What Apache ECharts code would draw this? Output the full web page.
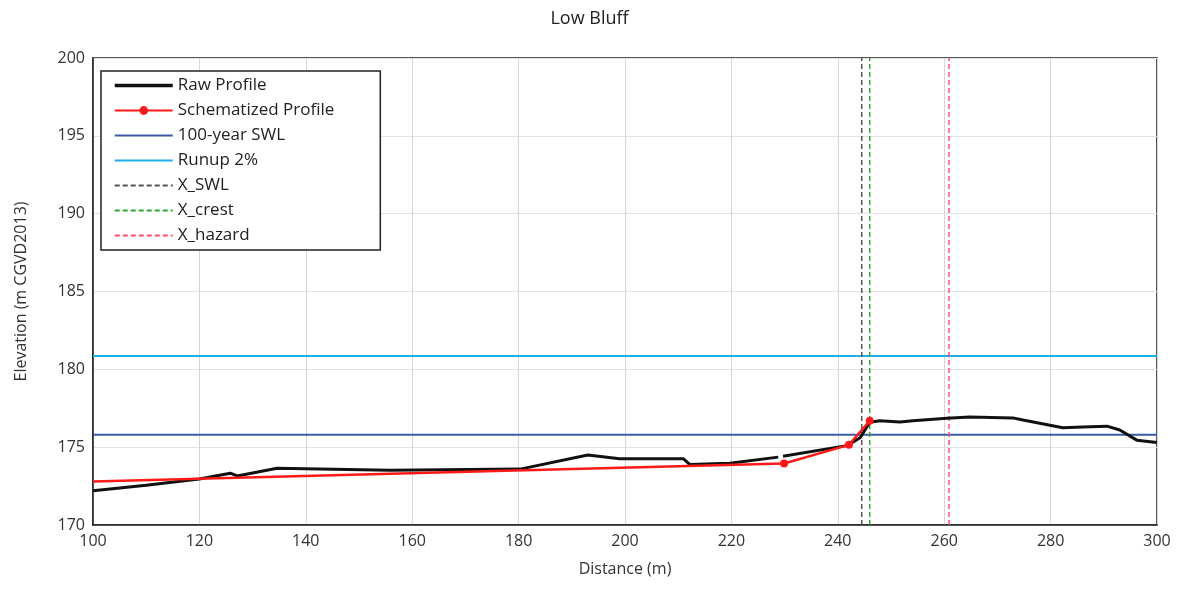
<!DOCTYPE html>
<html>
<head>
<meta charset="utf-8">
<script src="https://cdn.jsdelivr.net/npm/echarts@6/dist/echarts.min.js"></script>
<style>
  html, body { margin: 0; padding: 0; background: #fff; }
  #chart { width: 1179px; height: 599px; }
</style>
</head>
<body>
<div id="chart"></div>
<script>
// raw profile (distance, elevation)
var rawProfile = [
  [100, 172.2], [110, 172.55], [120, 172.95], [125.8, 173.33], [127.1, 173.15],
  [134.6, 173.65], [155.8, 173.52], [180.3, 173.59], [193, 174.5], [199, 174.25],
  [211, 174.25], [212.2, 173.88], [219.7, 173.97], [228.8, 174.36], [229.2, '-'],
  [229.7, 174.42], [241.7, 175.1], [244.2, 175.6], [246, 176.6], [247.9, 176.7],
  [251.7, 176.62], [254.1, 176.7], [260.5, 176.86], [264.8, 176.93], [272.9, 176.88],
  [274.8, 176.75], [282.3, 176.25], [286, 176.3], [290.6, 176.35], [293, 176.1],
  [296.2, 175.45], [300, 175.3]
];
// schematized profile
var schemProfile = [[100, 172.8], [229.9, 173.95], [242.1, 175.15], [246, 176.7]];
var swl = 175.8;
var runup = 180.85;
var xSwl = 244.5;
var xCrest = 246.0;
var xHazard = 260.9;
var legendNames = ['Raw Profile', 'Schematized Profile', '100-year SWL', 'Runup 2%', 'X_SWL', 'X_crest', 'X_hazard'];

function hLine(v) { return [[100, v], [300, v]]; }
function vLine(x) { return [[x, 170], [x, 200]]; }

var myChart = echarts.init(document.getElementById('chart'));
var axisText = { color: '#333', fontSize: 16, fontFamily: 'Open Sans, sans-serif' };

myChart.setOption({
  animation: false,
  title: {
    text: 'Low Bluff', left: 'center', top: 5,
    textStyle: { fontSize: 18, fontWeight: 'normal', color: '#222', fontFamily: 'Open Sans, sans-serif' }
  },
  grid: { left: 93, right: 22, top: 58, bottom: 74, show: true, borderColor: '#222', borderWidth: 1.5 },
  legend: {
    orient: 'vertical', left: 101, top: 71,
    backgroundColor: '#fff', borderColor: '#222', borderWidth: 1.5,
    padding: [6, 46, 6, 12], itemGap: 8, itemWidth: 58, itemHeight: 11,
    textStyle: { fontSize: 17, color: '#222', fontFamily: 'Open Sans, sans-serif' },
    data: legendNames.map(function (n) {
      if (n === 'Schematized Profile') return { name: n };
      if (n === 'Raw Profile') return { name: n, itemStyle: { opacity: 0 }, lineStyle: { width: 3.5 } };
      return { name: n, itemStyle: { opacity: 0 }, lineStyle: { width: 2 } };
    })
  },
  xAxis: {
    type: 'value', min: 100, max: 300, interval: 20,
    name: 'Distance (m)', nameLocation: 'middle', nameGap: 36,
    nameTextStyle: axisText,
    axisLine: { show: true, lineStyle: { color: '#222', width: 1.5 } },
    axisTick: { show: false },
    axisLabel: axisText,
    splitLine: { lineStyle: { color: '#d6d6d6' } }
  },
  yAxis: {
    type: 'value', min: 170, max: 200, interval: 5,
    name: 'Elevation (m CGVD2013)', nameLocation: 'middle', nameGap: 64,
    nameTextStyle: axisText,
    axisLine: { show: true, lineStyle: { color: '#222', width: 1.5 } },
    axisTick: { show: false },
    axisLabel: axisText,
    splitLine: { lineStyle: { color: '#e2e2e2' } }
  },
  series: [
    { name: 'Raw Profile', type: 'line', data: rawProfile, symbol: 'none', connectNulls: false,
      lineStyle: { color: '#111', width: 3 }, itemStyle: { color: '#111' }, z: 5 },
    { name: 'Schematized Profile', type: 'line', symbol: 'circle', symbolSize: 8,
      data: schemProfile.map(function (p, i) { return i === 0 ? { value: p, symbol: 'none' } : p; }),
      lineStyle: { color: '#ff1a1a', width: 2.5 }, itemStyle: { color: '#ff1a1a' }, z: 6 },
    { name: '100-year SWL', type: 'line', data: hLine(swl), symbol: 'none',
      lineStyle: { color: '#3b5ba5', width: 2 }, itemStyle: { color: '#3b5ba5' } },
    { name: 'Runup 2%', type: 'line', data: hLine(runup), symbol: 'none',
      lineStyle: { color: '#1cb0e8', width: 2 }, itemStyle: { color: '#1cb0e8' } },
    { name: 'X_SWL', type: 'line', data: vLine(xSwl), symbol: 'none',
      lineStyle: { color: '#555', width: 1.5, type: [5, 3] }, itemStyle: { color: '#555' } },
    { name: 'X_crest', type: 'line', data: vLine(xCrest), symbol: 'none',
      lineStyle: { color: '#2fa82f', width: 1.5, type: [5, 3] }, itemStyle: { color: '#2fa82f' } },
    { name: 'X_hazard', type: 'line', data: vLine(xHazard), symbol: 'none',
      lineStyle: { color: '#ff4a6e', width: 1.5, type: [5, 3] }, itemStyle: { color: '#ff4a6e' } }
  ]
});
</script>
</body>
</html>
